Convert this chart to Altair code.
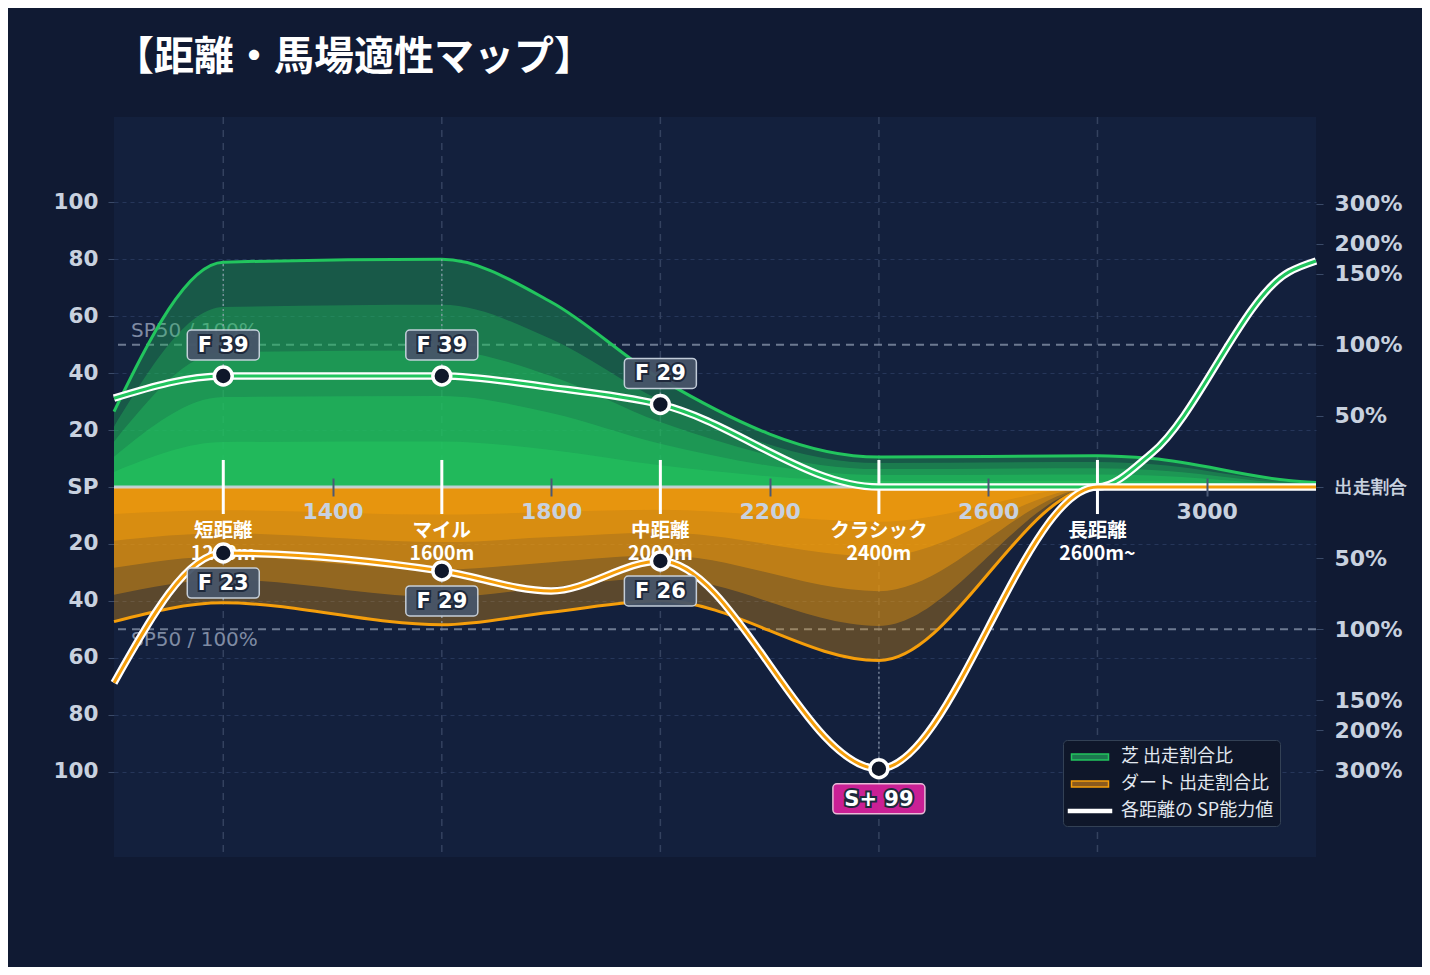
import altair as alt
import pandas as pd

# 距離ごとの読み取り値（SP単位。芝は上向き、ダートは下向きに描く）
dist = [1000, 1200, 1600, 1800, 2000, 2400, 2800, 2900, 3150, 3200]
turf_share = [26.5, 79, 80, 65, 38, 10.5, 11, 10, 2.3, 1.6]
dirt_share = [47.3, 40.7, 48.4, 44, 40, 61, 0, 0, 0, 0]
turf_sp = [31.2, 39, 39, 35, 29, 0, 0, 12, 75.5, 79.4]
dirt_sp = [68.8, 23.2, 29.5, 36.5, 26, 99, 0, 0, 0, 0]

cat_dist = [1200, 1600, 2000, 2400, 2800]
cat_name = ["短距離", "マイル", "中距離", "クラシック", "長距離"]
cat_len = ["1200m", "1600m", "2000m", "2400m", "2600m~"]

turf_mark_dist = [1200, 1600, 2000]
turf_grade = ["F 39", "F 39", "F 29"]
dirt_mark_dist = [1200, 1600, 2000, 2400]
dirt_grade = ["F 23", "F 29", "F 26", "S+ 99"]

left_ticks = [-100, -80, -60, -40, -20, 0, 20, 40, 60, 80, 100]
x_ticks = [1400, 1800, 2200, 2600, 3000]
pct_pos = [25, 50, 75, 85.5, 99.5]
pct_lab = ["50%", "100%", "150%", "200%", "300%"]
sp50 = [50, -50]

legend_items = ["芝 出走割合比", "ダート 出走割合比", "各距離の SP能力値"]

# styles
GREEN, ORANGE = "#22c55e", "#f59e0b"
band_frac = [1.0, 0.8, 0.6, 0.4, 0.2]
turf_op = [0.35, 0.32, 0.38, 0.43, 0.55]
dirt_op = [0.32, 0.37, 0.44, 0.48, 0.52]
NUM_FONT = "DejaVu Sans"
JP_FONT = "Noto Sans CJK JP"

## frames
curves = pd.DataFrame({
    "dist": dist,
    "turf": turf_share,
    "dirt": [-v for v in dirt_share],
    "turf_sp": turf_sp,
    "dirt_sp": [-v for v in dirt_sp],
    "zero": 0,
})

rows = []
for surf, vals, ops in [("turf", turf_share, turf_op), ("dirt", dirt_share, dirt_op)]:
    sign = 1 if surf == "turf" else -1
    for f, op in zip(band_frac, ops):
        for d, v in zip(dist, vals):
            rows.append({"dist": d, "surface": surf, "frac": f, "op": op, "v": sign * f * v, "zero": 0})
bands = pd.DataFrame(rows)

cats = pd.DataFrame({
    "dist": cat_dist,
    "label": [n + "\n" + l for n, l in zip(cat_name, cat_len)],
    "zero": 0, "lo": -9.5, "hi": 9.5,
})

def marks(mdist, vals, share, grades, sign):
    sp = dict(zip(dist, vals))
    sh = dict(zip(dist, share))
    return pd.DataFrame({
        "dist": mdist,
        "sp": [sign * sp[d] for d in mdist],
        "share": [sign * sh[d] for d in mdist],
        "grade": grades,
        "top": [g.startswith("S") for g in grades],
    })

turf_pts = marks(turf_mark_dist, turf_sp, turf_share, turf_grade, 1)
dirt_pts = marks(dirt_mark_dist, dirt_sp, dirt_share, dirt_grade, -1)

sp50_df = pd.DataFrame({"y": sp50, "x0": dist[0], "label": "SP50 / 100%"})
zero_df = pd.DataFrame({"y": [0]})

## scales / axes
X_SCALE = alt.Scale(domain=[1000, 3200], nice=False, zero=False)
X_AXIS = alt.Axis(values=x_ticks, format="d", title=None, grid=False, domain=False,
                  orient="bottom", offset=-379, tickSize=18, tickWidth=2,
                  tickColor="#4a5875", labelFont=NUM_FONT, labelFontSize=22,
                  labelFontWeight="bold", labelColor="#c8d1df", labelPadding=5, zindex=1)
Y_SCALE = alt.Scale(domain=[-130, 130], nice=False, zero=False)
Y_AXIS = alt.Axis(values=left_ticks, title=None, domain=False,
                  labelExpr="datum.value == 0 ? 'SP' : '' + abs(datum.value)",
                  grid=True, gridColor="#26365a", gridDash=[4, 4], gridWidth=1,
                  tickSize=6, tickColor="#3a4a68", labelFont=NUM_FONT, labelFontSize=21.5,
                  labelFontWeight="bold", labelColor="#c8d1df", labelPadding=10)

def xe(f):
    return alt.X(f + ":Q", scale=X_SCALE, axis=X_AXIS)

def ye(f):
    return alt.Y(f + ":Q", scale=Y_SCALE, axis=Y_AXIS, stack=None)

layers = []

# vertical category grid
layers.append(alt.Chart(cats).mark_rule(color="#34425f", strokeDash=[7, 6], strokeWidth=1.5)
              .encode(x=xe("dist")))

# SP50 lines and labels
layers.append(alt.Chart(sp50_df).mark_rule(color="#8b97ad", strokeDash=[8, 6], strokeWidth=2, opacity=0.75)
              .encode(y=ye("y")))
for yv, dy in [(50, -14), (-50, 11)]:
    layers.append(alt.Chart(sp50_df[sp50_df.y == yv]).mark_text(
        align="left", baseline="middle", dx=17, dy=dy, font=NUM_FONT, fontSize=20, color="#7f8ba3")
        .encode(x=xe("x0"), y=ye("y"), text="label:N"))

# share bands
for surf, col in [("turf", GREEN), ("dirt", ORANGE)]:
    layers.append(alt.Chart(bands[bands.surface == surf]).mark_area(interpolate="monotone", color=col)
                  .encode(x=xe("dist"), y=ye("v"), y2=alt.Y2("zero:Q"), detail="frac:N",
                          opacity=alt.Opacity("op:Q", scale=None)))

# share outlines
layers.append(alt.Chart(curves).mark_line(interpolate="monotone", color=GREEN, strokeWidth=3)
              .encode(x=xe("dist"), y=ye("turf")))
layers.append(alt.Chart(curves).mark_line(interpolate="monotone", color=ORANGE, strokeWidth=3)
              .encode(x=xe("dist"), y=ye("dirt")))

# zero line
layers.append(alt.Chart(zero_df).mark_rule(color="#cbd5e1", strokeWidth=3, opacity=0.9)
              .encode(y=ye("y")))

# category ticks and labels
layers.append(alt.Chart(cats).mark_rule(color="white", strokeWidth=3)
              .encode(x=xe("dist"), y=ye("lo"), y2=alt.Y2("hi:Q")))
layers.append(alt.Chart(cats).mark_text(
    lineBreak="\n", lineHeight=23, baseline="top", dy=35, font=JP_FONT,
    fontWeight="bold", fontSize=19.5, color="white")
    .encode(x=xe("dist"), y=ye("zero"), text="label:N"))

# connectors from point to share curve
for pts in [turf_pts, dirt_pts]:
    layers.append(alt.Chart(pts).mark_rule(color="#9aa5b8", strokeDash=[2, 3], strokeWidth=1.5, opacity=0.7)
                  .encode(x=xe("dist"), y=ye("sp"), y2=alt.Y2("share:Q")))

# SP lines
for f, col in [("turf_sp", GREEN), ("dirt_sp", ORANGE)]:
    layers.append(alt.Chart(curves).mark_line(interpolate="monotone", color="white", strokeWidth=7.5)
                  .encode(x=xe("dist"), y=ye(f)))
    layers.append(alt.Chart(curves).mark_line(interpolate="monotone", color=col, strokeWidth=3)
                  .encode(x=xe("dist"), y=ye(f)))

# points and grade labels
for pts, off in [(turf_pts, -31), (dirt_pts, 30)]:
    layers.append(alt.Chart(pts).mark_point(shape="circle", filled=True, size=320, fill="#0f172a",
                                            stroke="white", strokeWidth=3.5, opacity=1)
                  .encode(x=xe("dist"), y=ye("sp")))
    for is_top, w, fill, stroke in [(False, 72, "#475569", "#cbd5e1"), (True, 92, "#d4219a", "#f5c2e0")]:
        sub = pts[pts.top == is_top]
        if len(sub) == 0:
            continue
        layers.append(alt.Chart(sub).mark_rect(width=w, height=30, cornerRadius=4, fill=fill,
                                               stroke=stroke, strokeWidth=1.5, yOffset=off, opacity=0.95)
                      .encode(x=xe("dist"), y=ye("sp")))
    layers.append(alt.Chart(pts).mark_text(font=NUM_FONT, fontSize=21, fontWeight="bold", baseline="middle",
                                           dy=off + 1, fill="#1e293b", stroke="#1e293b", strokeWidth=4)
                  .encode(x=xe("dist"), y=ye("sp"), text="grade:N"))
    layers.append(alt.Chart(pts).mark_text(font=NUM_FONT, fontSize=21, fontWeight="bold", baseline="middle",
                                           dy=off + 1, color="white")
                  .encode(x=xe("dist"), y=ye("sp"), text="grade:N"))

# legend (dummy invisible points drive it)
RECT = "M-1.85,-0.3L1.85,-0.3L1.85,0.3L-1.85,0.3Z"
BAR = "M-2.15,-0.15L2.15,-0.15L2.15,0.15L-2.15,0.15Z"
LEG = alt.Legend(title=None, orient="none", legendX=949, legendY=623, symbolOpacity=1,
                 symbolSize=400, symbolStrokeWidth=1.5, symbolOffset=10, labelFont=JP_FONT,
                 labelFontSize=18, labelColor="#e2e8f0", fillColor="#0f172a", strokeColor="#334155",
                 padding=6, cornerRadius=4, rowPadding=7, labelOffset=20)
leg_df = pd.DataFrame({"item": legend_items, "dist": dist[0], "v": 0})
layers.append(alt.Chart(leg_df).mark_point(filled=True, opacity=0).encode(
    x=xe("dist"), y=ye("v"),
    fill=alt.Fill("item:N", scale=alt.Scale(domain=legend_items, range=["#1c7a4f", "#8a5a1e", "#ffffff"]), legend=LEG),
    stroke=alt.Stroke("item:N", scale=alt.Scale(domain=legend_items, range=[GREEN, ORANGE, "#ffffff"]), legend=LEG),
    shape=alt.Shape("item:N", scale=alt.Scale(domain=legend_items, range=[RECT, RECT, BAR]), legend=LEG),
))

main = alt.layer(*layers)

# right axis (share ratio)
rt_vals = [-v for v in reversed(pct_pos)] + [0] + pct_pos
expr = "'出走割合'"
for p, l in zip(reversed(pct_pos), reversed(pct_lab)):
    expr = f"abs(datum.value) == {p} ? '{l}' : " + expr
RIGHT_AXIS = alt.Axis(values=rt_vals, orient="right", title=None, domain=False, grid=False,
                      labelExpr=expr, tickSize=7, tickColor="#3a4a68", labelFont=NUM_FONT,
                      labelFontSize={"condition": {"test": "datum.value == 0", "value": 17.5}, "value": 22},
                      labelFontWeight="bold", labelColor="#c8d1df", labelPadding=11)
right = alt.Chart(pd.DataFrame({"y": rt_vals})).mark_rule(opacity=0).encode(
    y=alt.Y("y:Q", scale=Y_SCALE, axis=RIGHT_AXIS))

chart = alt.layer(main, right).resolve_scale(y="independent").properties(
    width=1202, height=740,
    autosize=alt.AutoSizeParams(type="none"),
    padding={"left": 106, "top": 109, "right": 106, "bottom": 110},
    background="#101a33",
    title=alt.TitleParams("【距離・馬場適性マップ】", anchor="start", frame="group", font=JP_FONT,
                          fontSize=40, fontWeight="bold", color="white", offset=38),
).configure_view(fill="#13203d", stroke=None)

chart.save("out.html", embed_options={"renderer": "svg", "actions": False})
